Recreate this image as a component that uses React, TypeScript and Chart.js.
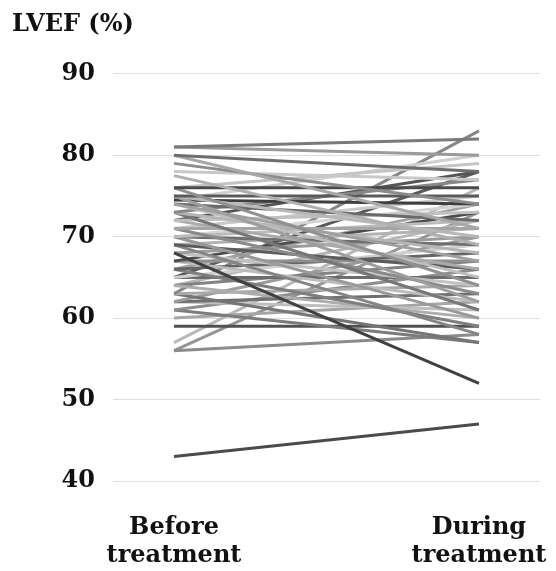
import React, { useEffect, useRef } from "react";
import { Chart, registerables } from "chart.js";

Chart.register(...registerables);

const titleText = "LVEF (%)";
const categoryLabels: string[][] = [["Before", "treatment"], ["During", "treatment"]];
const yTicks = [40, 50, 60, 70, 80, 90];

const beforeValues = [
  81, 81, 80, 80, 79, 78, 77.5, 76, 76, 76, 75, 75, 75, 74.5, 74.5, 74, 74, 74, 73, 73, 73,
  72, 72, 72, 71, 71, 71, 70, 70, 70, 70, 69, 69, 69, 68, 68, 68, 67, 67, 67, 66, 66, 66,
  65, 65, 65, 64, 64, 64, 63, 63, 63, 62, 62, 62, 61, 61, 60, 59, 57, 56, 56, 43,
];
const duringValues = [
  82, 80, 78, 71, 74, 77, 69, 76, 64, 79, 75, 70, 62, 74, 80, 67, 72, 65, 77, 68, 61,
  73, 66, 78, 71, 63, 75, 72, 69, 60, 74, 66, 71, 58, 52, 70, 64, 73, 67, 62, 68, 74, 59,
  69, 65, 78, 60, 67, 72, 83, 64, 57, 70, 63, 61, 66, 57, 62, 59, 76, 58, 73, 47,
];
const lineShades = [
  "#7a7a7a", "#9a9a9a", "#6e6e6e", "#a8a8a8", "#8c8c8c", "#c8c8c8", "#b0b0b0", "#4a4a4a",
  "#909090", "#c4c4c4", "#5a5a5a", "#b8b8b8", "#9e9e9e", "#3e3e3e", "#d0d0d0", "#a0a0a0",
  "#6a6a6a", "#bdbdbd", "#888888", "#b5b5b5", "#777777", "#c0c0c0", "#aaaaaa", "#555555",
  "#a5a5a5", "#8a8a8a", "#c9c9c9", "#bbbbbb", "#707070", "#999999", "#d4d4d4", "#5c5c5c",
  "#b2b2b2", "#858585", "#404040", "#9c9c9c", "#c2c2c2", "#4c4c4c", "#8f8f8f", "#bcbcbc",
  "#656565", "#a3a3a3", "#7e7e7e", "#cfcfcf", "#6c6c6c", "#595959", "#adadad", "#828282",
  "#b6b6b6", "#878787", "#a9a9a9", "#757575", "#9b9b9b", "#6f6f6f", "#bfbfbf", "#8e8e8e",
  "#7b7b7b", "#a6a6a6", "#505050", "#b9b9b9", "#8b8b8b", "#959595", "#4a4a4a",
];

export default function App() {
  const ref = useRef<HTMLCanvasElement | null>(null);

  useEffect(() => {
    if (!ref.current) return;
    const font = { family: "'DejaVu Serif', serif", weight: "bold" as const, size: 24 };
    const datasets = beforeValues.map((b, i) => ({
      label: "P" + (i + 1),
      data: [
        { x: 0, y: b },
        { x: 1, y: duringValues[i] },
      ],
      borderColor: lineShades[i],
      backgroundColor: lineShades[i],
      borderWidth: 3,
      pointRadius: 0,
      tension: 0,
    }));
    const chart = new Chart(ref.current, {
      type: "line",
      data: { datasets },
      options: {
        animation: false,
        responsive: false,
        maintainAspectRatio: false,
        layout: { padding: { left: 12, right: 16, top: 0, bottom: 0 } },
        plugins: {
          legend: { display: false },
          tooltip: { enabled: false },
          title: {
            display: true,
            text: titleText,
            align: "start",
            color: "#111",
            font,
            padding: { top: 10, bottom: 35 },
          },
        },
        scales: {
          x: {
            type: "linear",
            min: -0.2,
            max: 1.2,
            grid: { display: false },
            border: { display: false },
            afterBuildTicks: (axis: any) => {
              axis.ticks = [{ value: 0 }, { value: 1 }];
            },
            afterFit: (axis: any) => {
              axis.height = 90;
              axis.paddingLeft = 0;
              axis.paddingRight = 0;
            },
            ticks: {
              color: "#111",
              font,
              padding: 24,
              maxRotation: 0,
              autoSkip: false,
              callback: (v: any) => categoryLabels[Number(v)] ?? "",
            },
          },
          y: {
            min: 40,
            max: 90,
            afterFit: (axis: any) => {
              axis.width = 101;
              axis.paddingTop = 0;
              axis.paddingBottom = 0;
            },
            afterBuildTicks: (axis: any) => {
              axis.ticks = yTicks.map((v) => ({ value: v }));
            },
            grid: { color: "#dddddd", lineWidth: 1, drawTicks: false },
            border: { display: false },
            ticks: { color: "#111", font, padding: 18 },
          },
        },
      },
    });
    return () => chart.destroy();
  }, []);

  return (
    <div style={{ position: "fixed", left: 0, top: 0, width: 556, height: 571, background: "#fff" }}>
      <canvas ref={ref} width={556} height={571} style={{ width: 556, height: 571 }} />
    </div>
  );
}
